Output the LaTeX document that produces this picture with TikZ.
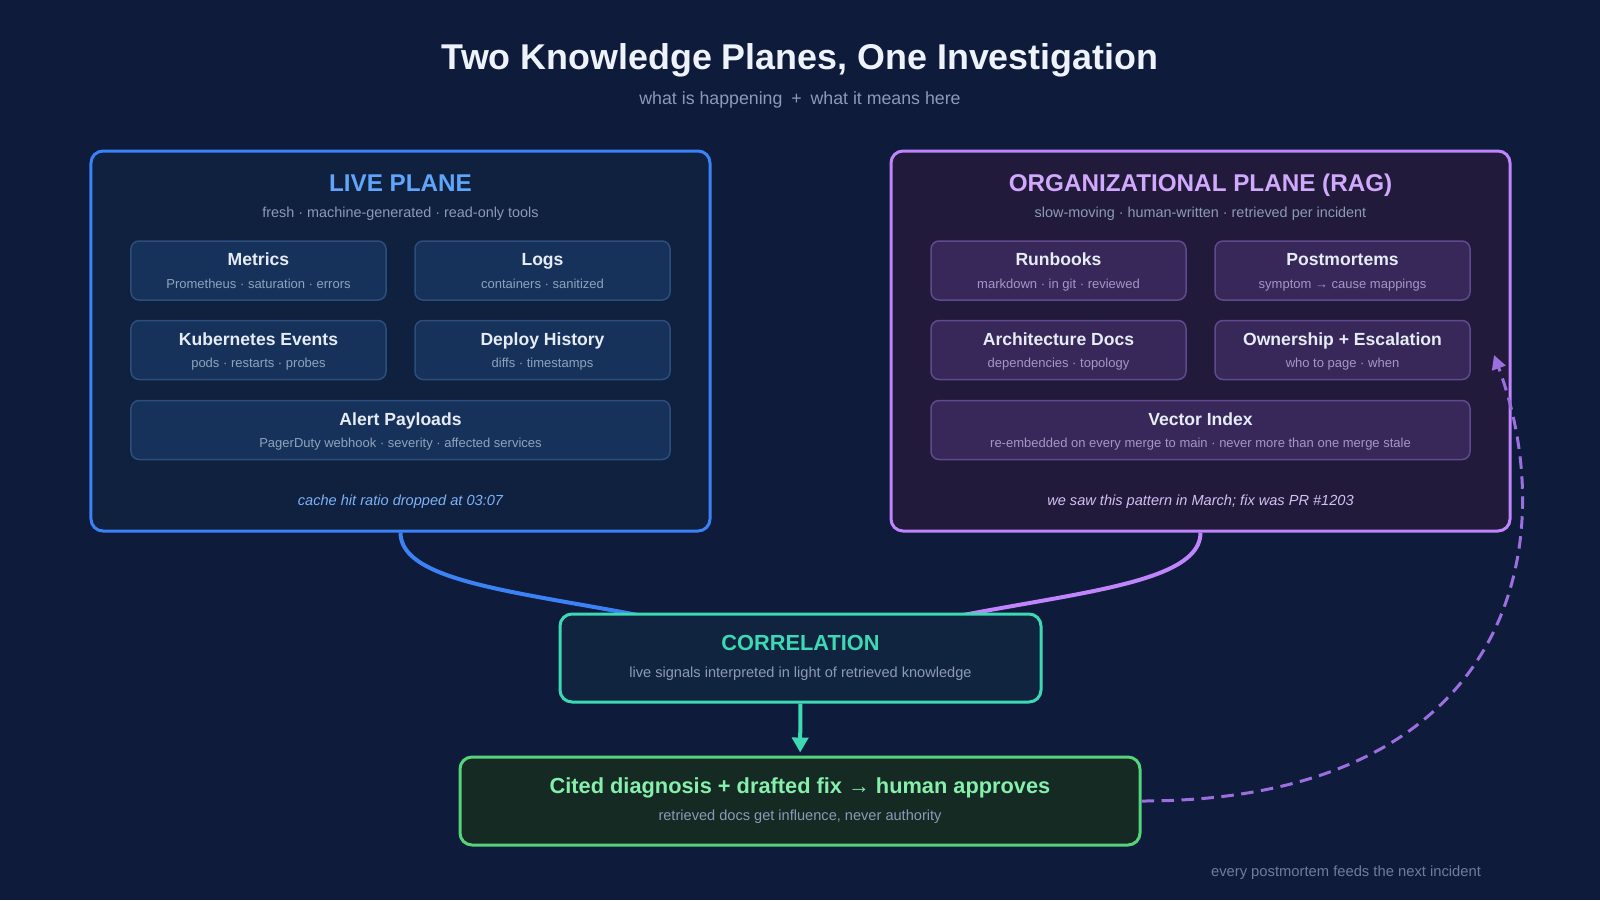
\documentclass[tikz,border=0pt]{standalone}
\usepackage{fontspec}
\setmainfont{Liberation Sans}
\usetikzlibrary{positioning,arrows.meta}

\definecolor{pagebg}{HTML}{0F1B3A}
\definecolor{titlewhite}{HTML}{EEF2FA}
\definecolor{mutedgray}{HTML}{8C9AB8}
\definecolor{footgray}{HTML}{6E7D9C}
\definecolor{liveline}{HTML}{3B82F6}
\definecolor{livefill}{HTML}{10203F}
\definecolor{livehead}{HTML}{60A5FA}
\definecolor{livenote}{HTML}{7DB2F7}
\definecolor{livecell}{HTML}{17325A}
\definecolor{livecellline}{HTML}{2B4E7A}
\definecolor{livesub}{HTML}{8DA2BE}
\definecolor{orgline}{HTML}{C084FC}
\definecolor{orgfill}{HTML}{221A3A}
\definecolor{orghead}{HTML}{D0A8FC}
\definecolor{orgnote}{HTML}{D3BFF5}
\definecolor{orgcell}{HTML}{38285A}
\definecolor{orgcellline}{HTML}{5E4A8C}
\definecolor{orgsub}{HTML}{A497C2}
\definecolor{corrline}{HTML}{3DD9B4}
\definecolor{corrfill}{HTML}{11243F}
\definecolor{finalline}{HTML}{55D27A}
\definecolor{finalfill}{HTML}{142A22}
\definecolor{finalhead}{HTML}{86EFAC}
\definecolor{loopline}{HTML}{9B6FE0}
\definecolor{cellwhite}{HTML}{E6ECF5}
\colorlet{cellsub}{livesub}

\pgfdeclarelayer{back}
\pgfsetlayers{back,main}

\newcommand{\cell}[2]{{\fontsize{10}{12}\selectfont\bfseries\color{cellwhite}\smash{#1}\vphantom{Ag}\rule{0pt}{9pt}}\\[0.6pt]{\fontsize{7.4}{9}\selectfont\color{cellsub}\smash{#2}\vphantom{Ag}}}
\newcommand{\flowtext}[3]{{\fontsize{12.4}{14}\selectfont\bfseries\color{#1}\smash{#2}\vphantom{Ag}}\\[3pt]{\fontsize{8.3}{10}\selectfont\color{mutedgray}\smash{#3}\vphantom{Ag}}}

\begin{document}
\begin{tikzpicture}[x=0.2mm,y=-0.2mm,on grid,node distance=15.9mm and 56.8mm,
    plane/.style={draw,line width=0.6mm,rounded corners=2.4mm,minimum width=123.8mm,minimum height=76mm},
    planehead/.style={font=\fontsize{13.8}{16}\selectfont\bfseries,text height=1.4ex,text depth=0pt},
    planesub/.style={font=\fontsize{8.2}{10}\selectfont,text=mutedgray},
    planenote/.style={font=\fontsize{8.3}{10}\selectfont\itshape},
    srcbox/.style={draw,line width=0.3mm,rounded corners=1.6mm,minimum width=51mm,minimum height=11.8mm,align=center,inner sep=0pt},
    livesrc/.style={srcbox,fill=livecell,draw=livecellline,execute at begin node=\colorlet{cellsub}{livesub}},
    orgsrc/.style={srcbox,fill=orgcell,draw=orgcellline,execute at begin node=\colorlet{cellsub}{orgsub}},
    flowbox/.style={draw,line width=0.6mm,rounded corners=2.4mm,minimum height=17.6mm,align=center,inner sep=0pt},
    feed/.style={line width=0.8mm}]
\useasboundingbox (0,0) rectangle (1600,900);
\begin{pgfonlayer}{back}
\fill[pagebg] (0,0) rectangle (1600,900);
\end{pgfonlayer}

% heading
\node[font=\fontsize{20.4}{24}\selectfont\bfseries,text=titlewhite] (title) at (800,60) {Two Knowledge Planes, One Investigation};
\node[font=\fontsize{10.1}{12}\selectfont,text=mutedgray] (subtitle) at (800,100) {what is happening\enspace+\enspace what it means here};

% live plane
\node[plane,draw=liveline,fill=livefill] (live) at (400.5,341) {};
\node[planehead,text=livehead] (livehead) at (400.5,185) {LIVE PLANE};
\node[planesub] (livesub) at (400.5,214) {fresh · machine-generated · read-only tools};
\node[livesrc] (metrics) at (258.5,270.5) {\cell{Metrics}{Prometheus · saturation · errors}};
\node[livesrc] (logs) [right=of metrics] {\cell{Logs}{containers · sanitized}};
\node[livesrc] (events) [below=of metrics] {\cell{Kubernetes Events}{pods · restarts · probes}};
\node[livesrc] (deploys) [below=of logs] {\cell{Deploy History}{diffs · timestamps}};
\node[livesrc,minimum width=107.8mm] (alerts) at (400.5,430) {\cell{Alert Payloads}{PagerDuty webhook · severity · affected services}};
\node[planenote,text=livenote] (livenote) at (400.5,502) {cache hit ratio dropped at 03:07};

% organizational plane
\node[plane,draw=orgline,fill=orgfill] (org) at (1200.5,341) {};
\node[planehead,text=orghead] (orghead) at (1200.5,185) {ORGANIZATIONAL PLANE (RAG)};
\node[planesub] (orgsub) at (1200.5,214) {slow-moving · human-written · retrieved per incident};
\node[orgsrc] (runbooks) at (1058.5,270.5) {\cell{Runbooks}{markdown · in git · reviewed}};
\node[orgsrc] (postmortems) [right=of runbooks] {\cell{Postmortems}{symptom → cause mappings}};
\node[orgsrc] (archdocs) [below=of runbooks] {\cell{Architecture Docs}{dependencies · topology}};
\node[orgsrc] (owners) [below=of postmortems] {\cell{Ownership + Escalation}{who to page · when}};
\node[orgsrc,minimum width=107.8mm] (vectors) at (1200.5,430) {\cell{Vector Index}{re-embedded on every merge to main · never more than one merge stale}};
\node[planenote,text=orgnote] (orgnote) at (1200.5,502) {we saw this pattern in March; fix was PR \#1203};

% correlation and outcome
\node[flowbox,draw=corrline,fill=corrfill,minimum width=96.2mm] (corr) at (800.5,658) {\flowtext{corrline}{CORRELATION}{live signals interpreted in light of retrieved knowledge}};
\node[flowbox,draw=finalline,fill=finalfill,minimum width=136mm] (final) at (800,801) {\flowtext{finalhead}{Cited diagnosis + drafted fix → human approves}{retrieved docs get influence, never authority}};

\begin{pgfonlayer}{back}
\draw[feed,liveline] (live.south) .. controls +(0,69) and +(-170,-65) .. (corr.center);
\draw[feed,orgline] (org.south) .. controls +(0,69) and +(170,-65) .. (corr.center);
\end{pgfonlayer}

\draw[feed,corrline,-{Triangle[length=3mm,width=3.2mm]},shorten >=0.6mm] (corr) -- (final);

% feedback loop
\coordinate (looptip) at (1494,355);
\draw[loopline,line width=0.6mm,dash pattern=on 2.5mm off 1.5mm,-{Triangle[length=2.8mm,width=2.8mm]}] (final.east) .. controls +(370,0) and +(70,190) .. (looptip);
\node[font=\fontsize{8.4}{10}\selectfont,text=footgray] (footer) at (1346,873) {every postmortem feeds the next incident};
\end{tikzpicture}
\end{document}
